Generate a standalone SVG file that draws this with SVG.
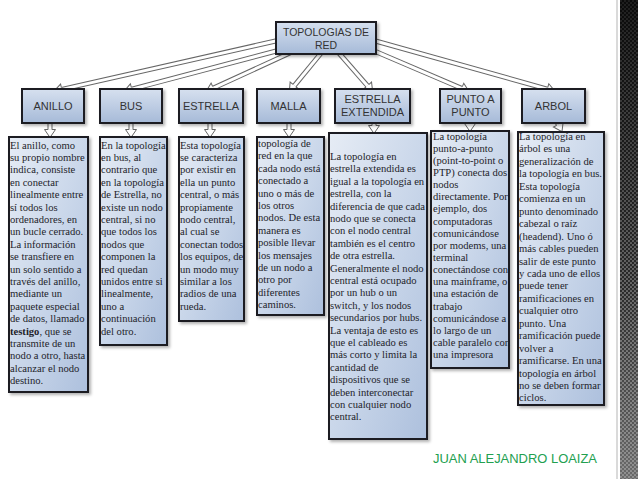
<svg xmlns="http://www.w3.org/2000/svg" width="638" height="479" viewBox="0 0 638 479">
<defs>
<linearGradient id="hg" x1="0" y1="0" x2="0" y2="1"><stop offset="0" stop-color="#d6e0ef"/><stop offset="1" stop-color="#a6bad8"/></linearGradient>
<linearGradient id="tg" x1="0" y1="0" x2="1" y2="1"><stop offset="0" stop-color="#e6ecf5"/><stop offset="0.5" stop-color="#cad7ea"/><stop offset="1" stop-color="#adc0dd"/></linearGradient>
<linearGradient id="sg" x1="0" y1="0" x2="0" y2="1"><stop offset="0" stop-color="#0b0b0b"/><stop offset="0.6" stop-color="#2a2a2a"/><stop offset="1" stop-color="#6a6a6a"/></linearGradient>
<linearGradient id="mg" x1="0" y1="0" x2="0" y2="1"><stop offset="0" stop-color="#fff" stop-opacity="0.15"/><stop offset="1" stop-color="#fff" stop-opacity="0.9"/></linearGradient>
<pattern id="dots" width="4" height="4" patternUnits="userSpaceOnUse"><circle cx="1" cy="1" r="1.1" fill="#9a9a9a"/><circle cx="3" cy="3" r="1.1" fill="#9a9a9a"/></pattern>
<mask id="dm"><rect x="620" y="0" width="18" height="479" fill="url(#mg)"/></mask>
<filter id="sh" x="-10%" y="-10%" width="130%" height="130%"><feDropShadow dx="2" dy="2" stdDeviation="1.5" flood-color="#000" flood-opacity="0.3"/></filter>
<marker id="ah" markerUnits="userSpaceOnUse" orient="auto" markerWidth="12" markerHeight="12" refX="0" refY="0" overflow="visible">
<path d="M0,-1.8 L0,-5.5 L8,0 L0,5.5 L0,1.8" fill="#fff" stroke="#666" stroke-width="1" stroke-linejoin="miter"/>
</marker>
<style>
.o{fill:none;stroke:#666;stroke-width:5}
.i{fill:none;stroke:#fff;stroke-width:3;marker-end:url(#ah)}
.hb{fill:url(#hg);stroke:#1c1c24;stroke-width:2;filter:url(#sh)}
.tb{fill:url(#tg);stroke:#1c1c24;stroke-width:2;filter:url(#sh)}
.ht{font-family:"Liberation Sans",Arial,sans-serif;font-size:11px;fill:#333;text-anchor:middle}
.bt{font-family:"Liberation Serif","Times New Roman",serif;font-size:10.6px;fill:#1e1e2a}
.ft{font-family:"Liberation Sans",Arial,sans-serif;font-size:13px;fill:#22a04f}
</style>
</defs>
<rect width="638" height="479" fill="#fff"/>

<g id="connectors">
<path class="o" d="M280,40 L61.8,89.4"/><path class="i" d="M280,40 L61.8,89.4"/>
<path class="o" d="M280,50 L131.8,89.2"/><path class="i" d="M280,50 L131.8,89.2"/>
<path class="o" d="M292,52 L213.4,88.1"/><path class="i" d="M292,52 L213.4,88.1"/>
<path class="o" d="M322,52 L294.4,85.6"/><path class="i" d="M322,52 L294.4,85.6"/>
<path class="o" d="M338,52 L367.4,85.7"/><path class="i" d="M338,52 L367.4,85.7"/>
<path class="o" d="M372,50 L461.6,88.3"/><path class="i" d="M372,50 L461.6,88.3"/>
<path class="o" d="M372,40 L547.3,89.1"/><path class="i" d="M372,40 L547.3,89.1"/>
<path class="o" d="M50,122 L50,129.5"/><path class="i" d="M50,122 L50,129.5"/>
<path class="o" d="M131,122 L131,129.5"/><path class="i" d="M131,122 L131,129.5"/>
<path class="o" d="M210,122 L210,129.5"/><path class="i" d="M210,122 L210,129.5"/>
<path class="o" d="M289,122 L289,129.5"/><path class="i" d="M289,122 L289,129.5"/>
<path class="o" d="M374,122 L374,125.5"/><path class="i" d="M374,122 L374,125.5"/>
<path class="o" d="M470,122 L470,123.5"/><path class="i" d="M470,122 L470,123.5"/>
<path class="o" d="M557,122 L558.3,124.5"/><path class="i" d="M557,122 L558.3,124.5"/>
</g>

<g id="root"><rect class="hb" x="276" y="22" width="100" height="32"/>
<text class="ht" style="font-size:10.5px"><tspan x="326" y="36">TOPOLOGIAS DE</tspan><tspan x="326" y="49">RED</tspan></text></g>

<g id="anillo"><rect class="hb" x="22" y="89" width="62" height="34"/><text class="ht" x="53" y="110">ANILLO</text></g>
<g id="bus"><rect class="hb" x="100" y="89" width="62" height="34"/><text class="ht" x="131" y="110">BUS</text></g>
<g id="estrella"><rect class="hb" x="179" y="89" width="64" height="34"/><text class="ht" x="211" y="110">ESTRELLA</text></g>
<g id="malla"><rect class="hb" x="257" y="89" width="63" height="34"/><text class="ht" x="288.5" y="110">MALLA</text></g>
<g id="estrella-extendida"><rect class="hb" x="335" y="89" width="75" height="34"/><text class="ht"><tspan x="372.5" y="103">ESTRELLA</tspan><tspan x="372.5" y="116">EXTENDIDA</tspan></text></g>
<g id="punto-a-punto"><rect class="hb" x="440" y="89" width="61" height="34"/><text class="ht"><tspan x="470.5" y="103">PUNTO A</tspan><tspan x="470.5" y="116">PUNTO</tspan></text></g>
<g id="arbol"><rect class="hb" x="522" y="89" width="63" height="34"/><text class="ht" x="553.5" y="110">ARBOL</text></g>

<g id="anillo-texto"><rect class="tb" x="9" y="137" width="79" height="255"/>
<text class="bt"><tspan x="10" y="148.5">El anillo, como</tspan><tspan x="10" dy="12.4">su propio nombre</tspan><tspan x="10" dy="12.4">indica, consiste</tspan><tspan x="10" dy="12.4">en conectar</tspan><tspan x="10" dy="12.4">linealmente entre</tspan><tspan x="10" dy="12.4">sí todos los</tspan><tspan x="10" dy="12.4">ordenadores, en</tspan><tspan x="10" dy="12.4">un bucle cerrado.</tspan><tspan x="10" dy="12.4">La información</tspan><tspan x="10" dy="12.4">se transfiere en</tspan><tspan x="10" dy="12.4">un solo sentido a</tspan><tspan x="10" dy="12.4">través del anillo,</tspan><tspan x="10" dy="12.4">mediante un</tspan><tspan x="10" dy="12.4">paquete especial</tspan><tspan x="10" dy="12.4">de datos, llamado</tspan><tspan x="10" dy="12.4"><tspan font-weight="bold">testigo</tspan>, que se</tspan><tspan x="10" dy="12.4">transmite de un</tspan><tspan x="10" dy="12.4">nodo a otro, hasta</tspan><tspan x="10" dy="12.4">alcanzar el nodo</tspan><tspan x="10" dy="12.4">destino.</tspan></text></g>

<g id="bus-texto"><rect class="tb" x="100" y="137" width="67" height="208"/>
<text class="bt"><tspan x="101" y="148.5">En la topología</tspan><tspan x="101" dy="12.4">en bus, al</tspan><tspan x="101" dy="12.4">contrario que</tspan><tspan x="101" dy="12.4">en la topología</tspan><tspan x="101" dy="12.4">de Estrella, no</tspan><tspan x="101" dy="12.4">existe un nodo</tspan><tspan x="101" dy="12.4">central, si no</tspan><tspan x="101" dy="12.4">que todos los</tspan><tspan x="101" dy="12.4">nodos que</tspan><tspan x="101" dy="12.4">componen la</tspan><tspan x="101" dy="12.4">red quedan</tspan><tspan x="101" dy="12.4">unidos entre si</tspan><tspan x="101" dy="12.4">linealmente,</tspan><tspan x="101" dy="12.4">uno a</tspan><tspan x="101" dy="12.4">continuación</tspan><tspan x="101" dy="12.4">del otro.</tspan></text></g>

<g id="estrella-texto"><rect class="tb" x="179" y="137" width="65" height="184"/>
<text class="bt"><tspan x="180" y="148.5">Esta topología</tspan><tspan x="180" dy="12.4">se caracteriza</tspan><tspan x="180" dy="12.4">por existir en</tspan><tspan x="180" dy="12.4">ella un punto</tspan><tspan x="180" dy="12.4">central, o más</tspan><tspan x="180" dy="12.4">propiamente</tspan><tspan x="180" dy="12.4">nodo central,</tspan><tspan x="180" dy="12.4">al cual se</tspan><tspan x="180" dy="12.4">conectan todos</tspan><tspan x="180" dy="12.4">los equipos, de</tspan><tspan x="180" dy="12.4">un modo muy</tspan><tspan x="180" dy="12.4">similar a los</tspan><tspan x="180" dy="12.4">radios de una</tspan><tspan x="180" dy="12.4">rueda.</tspan></text></g>

<g id="malla-texto"><rect class="tb" x="257" y="137" width="67" height="178"/>
<text class="bt"><tspan x="258" y="147">topología de</tspan><tspan x="258" dy="12.4">red en la que</tspan><tspan x="258" dy="12.4">cada nodo está</tspan><tspan x="258" dy="12.4">conectado a</tspan><tspan x="258" dy="12.4">uno o más de</tspan><tspan x="258" dy="12.4">los otros</tspan><tspan x="258" dy="12.4">nodos. De esta</tspan><tspan x="258" dy="12.4">manera es</tspan><tspan x="258" dy="12.4">posible llevar</tspan><tspan x="258" dy="12.4">los mensajes</tspan><tspan x="258" dy="12.4">de un nodo a</tspan><tspan x="258" dy="12.4">otro por</tspan><tspan x="258" dy="12.4">diferentes</tspan><tspan x="258" dy="12.4">caminos.</tspan></text></g>

<g id="estrella-extendida-texto"><rect class="tb" x="329" y="133" width="98" height="306"/>
<text class="bt"><tspan x="330" y="160">La topología en</tspan><tspan x="330" dy="12.4">estrella extendida es</tspan><tspan x="330" dy="12.4">igual a la topología en</tspan><tspan x="330" dy="12.4">estrella, con la</tspan><tspan x="330" dy="12.4">diferencia de que cada</tspan><tspan x="330" dy="12.4">nodo que se conecta</tspan><tspan x="330" dy="12.4">con el nodo central</tspan><tspan x="330" dy="12.4">también es el centro</tspan><tspan x="330" dy="12.4">de otra estrella.</tspan><tspan x="330" dy="12.4">Generalmente el nodo</tspan><tspan x="330" dy="12.4">central está ocupado</tspan><tspan x="330" dy="12.4">por un hub o un</tspan><tspan x="330" dy="12.4">switch, y los nodos</tspan><tspan x="330" dy="12.4">secundarios por hubs.</tspan><tspan x="330" dy="12.4">La ventaja de esto es</tspan><tspan x="330" dy="12.4">que el cableado es</tspan><tspan x="330" dy="12.4">más corto y limita la</tspan><tspan x="330" dy="12.4">cantidad de</tspan><tspan x="330" dy="12.4">dispositivos que se</tspan><tspan x="330" dy="12.4">deben interconectar</tspan><tspan x="330" dy="12.4">con cualquier nodo</tspan><tspan x="330" dy="12.4">central.</tspan></text></g>

<g id="punto-a-punto-texto"><rect class="tb" x="431" y="131" width="78" height="237"/>
<text class="bt"><tspan x="433" y="139.5">La topología</tspan><tspan x="433" dy="12.15">punto-a-punto</tspan><tspan x="433" dy="12.15">(point-to-point o</tspan><tspan x="433" dy="12.15">PTP) conecta dos</tspan><tspan x="433" dy="12.15">nodos</tspan><tspan x="433" dy="12.15">directamente. Por</tspan><tspan x="433" dy="12.15">ejemplo, dos</tspan><tspan x="433" dy="12.15">computadoras</tspan><tspan x="433" dy="12.15">comunicándose</tspan><tspan x="433" dy="12.15">por modems, una</tspan><tspan x="433" dy="12.15">terminal</tspan><tspan x="433" dy="12.15">conectándose con</tspan><tspan x="433" dy="12.15">una mainframe, o</tspan><tspan x="433" dy="12.15">una estación de</tspan><tspan x="433" dy="12.15">trabajo</tspan><tspan x="433" dy="12.15">comunicándose a</tspan><tspan x="433" dy="12.15">lo largo de un</tspan><tspan x="433" dy="12.15">cable paralelo con</tspan><tspan x="433" dy="12.15">una impresora</tspan></text></g>

<g id="arbol-texto"><rect class="tb" x="518" y="132" width="86" height="273"/>
<text class="bt"><tspan x="519" y="140">La topología en</tspan><tspan x="519" dy="12.45">árbol es una</tspan><tspan x="519" dy="12.45">generalización de</tspan><tspan x="519" dy="12.45">la topología en bus.</tspan><tspan x="519" dy="12.45">Esta topología</tspan><tspan x="519" dy="12.45">comienza en un</tspan><tspan x="519" dy="12.45">punto denominado</tspan><tspan x="519" dy="12.45">cabezal o raíz</tspan><tspan x="519" dy="12.45">(headend). Uno ó</tspan><tspan x="519" dy="12.45">más cables pueden</tspan><tspan x="519" dy="12.45">salir de este punto</tspan><tspan x="519" dy="12.45">y cada uno de ellos</tspan><tspan x="519" dy="12.45">puede tener</tspan><tspan x="519" dy="12.45">ramificaciones en</tspan><tspan x="519" dy="12.45">cualquier otro</tspan><tspan x="519" dy="12.45">punto. Una</tspan><tspan x="519" dy="12.45">ramificación puede</tspan><tspan x="519" dy="12.45">volver a</tspan><tspan x="519" dy="12.45">ramificarse. En una</tspan><tspan x="519" dy="12.45">topología en árbol</tspan><tspan x="519" dy="12.45">no se deben formar</tspan><tspan x="519" dy="12.45">ciclos.</tspan></text></g>

<text class="ft" x="433" y="463" textLength="164" lengthAdjust="spacingAndGlyphs">JUAN ALEJANDRO LOAIZA</text>

<line x1="617" y1="0" x2="617" y2="479" stroke="#b5b5b5" stroke-width="1"/>
<rect x="620" y="0" width="18" height="479" fill="url(#sg)"/>
<rect x="620" y="0" width="18" height="479" fill="url(#dots)" mask="url(#dm)"/>
</svg>
